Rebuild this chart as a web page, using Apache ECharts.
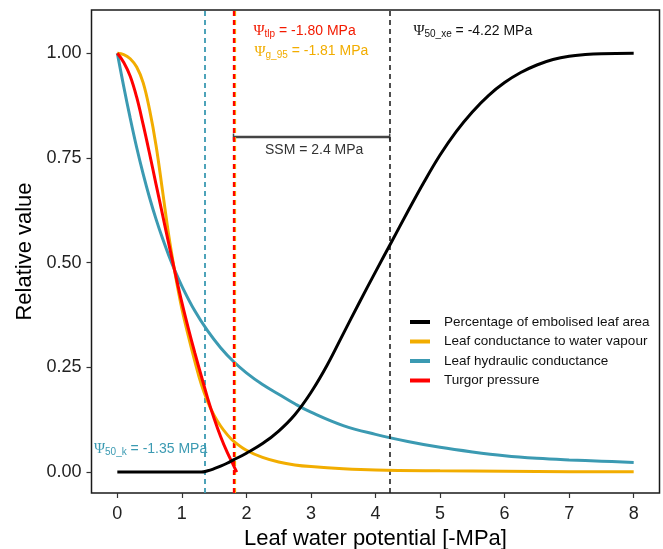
<!DOCTYPE html>
<html>
<head>
<meta charset="utf-8">
<script src="https://cdn.jsdelivr.net/npm/echarts@6/dist/echarts.min.js"></script>
<style>
  html, body { margin: 0; padding: 0; background: #fff; }
  #chart { width: 663px; height: 549px; }
</style>
</head>
<body>
<div id="chart"></div>
<script>
// Leaf water potential (x, -MPa) and relative value of each trait
const embolX = [0, 0.5, 1.0, 1.3, 1.4, 1.5, 1.6, 1.7, 1.8, 2.0, 2.25, 2.5, 2.75, 3.0, 3.25, 3.5, 3.75, 4.0, 4.25, 4.5, 4.75, 5.0, 5.25, 5.5, 5.75, 6.0, 6.25, 6.5, 6.75, 7.0, 7.25, 7.5, 8.0];
const embolY = [0, 0, 0, 0, 0.003, 0.008, 0.014, 0.021, 0.029, 0.045, 0.068, 0.098, 0.137, 0.19, 0.255, 0.33, 0.405, 0.478, 0.55, 0.622, 0.692, 0.757, 0.813, 0.86, 0.899, 0.93, 0.954, 0.972, 0.985, 0.993, 0.997, 0.999, 1.0];

const gsX = [0, 0.1, 0.2, 0.3, 0.4, 0.5, 0.6, 0.7, 0.8, 0.9, 1.0, 1.1, 1.2, 1.3, 1.4, 1.5, 1.6, 1.7, 1.8, 2.0, 2.25, 2.5, 2.75, 3.0, 3.5, 4.0, 5.0, 6.0, 7.0, 8.0];
const gsY = [1.0, 0.997, 0.987, 0.967, 0.93, 0.865, 0.78, 0.672, 0.562, 0.47, 0.39, 0.325, 0.265, 0.21, 0.168, 0.135, 0.11, 0.09, 0.074, 0.052, 0.035, 0.024, 0.017, 0.013, 0.008, 0.005, 0.003, 0.002, 0.001, 0.001];

const khX = [0, 0.1, 0.2, 0.3, 0.4, 0.5, 0.6, 0.7, 0.8, 0.9, 1.0, 1.2, 1.4, 1.6, 1.8, 2.0, 2.25, 2.5, 2.75, 3.0, 3.5, 4.0, 4.5, 5.0, 5.5, 6.0, 6.5, 7.0, 7.5, 8.0];
const khY = [1.0, 0.92, 0.845, 0.775, 0.712, 0.655, 0.604, 0.558, 0.516, 0.478, 0.444, 0.385, 0.337, 0.297, 0.264, 0.237, 0.209, 0.186, 0.163, 0.143, 0.111, 0.09, 0.073, 0.059, 0.048, 0.039, 0.033, 0.029, 0.026, 0.023];

const turgorX = [0, 0.1, 0.2, 0.3, 0.4, 0.5, 0.6, 0.7, 0.8, 0.9, 1.0, 1.1, 1.2, 1.3, 1.4, 1.5, 1.6, 1.7, 1.8, 1.85];
const turgorY = [1.0, 0.978, 0.945, 0.895, 0.83, 0.76, 0.687, 0.615, 0.543, 0.473, 0.405, 0.343, 0.285, 0.23, 0.176, 0.128, 0.085, 0.048, 0.016, 0];

// Thresholds (shown as -MPa on the axis)
const psiTlp = 1.80;
const psiG95 = 1.81;
const psi50k = 1.35;
const psi50xe = 4.22;
const ssmValue = 2.4;
const ssmLevel = 0.8;

const seriesNames = [
  'Percentage of embolised leaf area',
  'Leaf conductance to water vapour',
  'Leaf hydraulic conductance',
  'Turgor pressure'
];
const xTicks = [0, 1, 2, 3, 4, 5, 6, 7, 8];
const yTicks = [0, 0.25, 0.5, 0.75, 1];

const colBlack = '#000000';
const colOrange = '#F2AD00';
const colBlue = '#3B9AB2';
const colRed = '#FF0000';
const FONT = '"Liberation Sans", Arial, sans-serif';

const zip = (xs, ys) => xs.map((x, i) => [x, ys[i]]);

function curve(name, xs, ys, color, z) {
  return {
    name, type: 'line', data: zip(xs, ys), showSymbol: false, symbol: 'none',
    smooth: 0.4, z,
    lineStyle: { color, width: 3 }, itemStyle: { color },
    emphasis: { disabled: true }, animation: false
  };
}

function vline(value, color, width, z) {
  return {
    type: 'line', data: [], z, silent: true, animation: false,
    markLine: {
      silent: true, symbol: ['none', 'none'], animation: false,
      label: { show: false },
      lineStyle: { color, width, type: [5, 4] },
      emphasis: { disabled: true },
      data: [{ xAxis: value }]
    }
  };
}

const chart = echarts.init(document.getElementById('chart'), null, { renderer: 'canvas' });

chart.setOption({
  animation: false,
  backgroundColor: '#ffffff',
  textStyle: { fontFamily: FONT },
  grid: {
    left: 91.5, right: 3.5, top: 10, bottom: 56,
    outerBoundsMode: 'none', containLabel: false,
    show: true, borderColor: '#1a1a1a', borderWidth: 1.5, backgroundColor: 'transparent'
  },
  legend: {
    orient: 'vertical', left: 405, top: 310,
    icon: 'rect', itemWidth: 20, itemHeight: 4, itemGap: 5.5,
    data: seriesNames,
    textStyle: { fontSize: 13.5, color: '#111', fontFamily: FONT, padding: [0, 0, 0, 9] },
    selectedMode: false
  },
  xAxis: {
    type: 'value', min: -0.4, max: 8.4, position: 'bottom',
    name: 'Leaf water potential [-MPa]', nameLocation: 'middle', nameGap: 33,
    nameTextStyle: { fontSize: 22, color: '#000', fontFamily: FONT },
    axisLine: { show: false, onZero: false },
    splitLine: { show: false },
    axisTick: { show: true, inside: false, customValues: xTicks, length: 5, lineStyle: { color: '#333', width: 1.2 } },
    axisLabel: { customValues: xTicks, fontSize: 18, color: '#222', margin: 12, fontFamily: FONT }
  },
  yAxis: {
    type: 'value', min: -0.05, max: 1.1033, position: 'left',
    name: 'Relative value', nameLocation: 'middle', nameGap: 55, nameRotate: 90,
    nameTextStyle: { fontSize: 22, color: '#000', fontFamily: FONT },
    axisLine: { show: false, onZero: false },
    splitLine: { show: false },
    axisTick: { show: true, inside: false, customValues: yTicks, length: 5, lineStyle: { color: '#333', width: 1.2 } },
    axisLabel: {
      customValues: yTicks, fontSize: 18, color: '#222', margin: 10, fontFamily: FONT,
      formatter: v => v.toFixed(2)
    }
  },
  series: [
    vline(psi50k, colBlue, 1.8, 1),
    vline(psi50xe, '#222', 1.6, 1),
    vline(psiG95, colOrange, 3.2, 1),
    vline(psiTlp, colRed, 2.2, 2),
    {
      name: 'SSM', type: 'line', z: 3, animation: false, silent: true,
      data: [[psiTlp, ssmLevel], [psi50xe, ssmLevel]],
      symbol: 'rect', symbolSize: [1.5, 7], showSymbol: true,
      lineStyle: { color: '#444', width: 2.5 }, itemStyle: { color: '#444' }
    },
    curve(seriesNames[2], khX, khY, colBlue, 4),
    curve(seriesNames[1], gsX, gsY, colOrange, 5),
    curve(seriesNames[3], turgorX, turgorY, colRed, 6),
    curve(seriesNames[0], embolX, embolY, colBlack, 7)
  ]
});

// Text annotations placed in data coordinates
const px = (x, y) => chart.convertToPixel({ xAxisIndex: 0, yAxisIndex: 0 }, [x, y]);
const psiStyle = { fontFamily: '"Liberation Serif", "DejaVu Serif", serif', fontSize: 15 };
function note(x, y, parts, color, align) {
  const p = px(x, y);
  const rich = {
    psi: Object.assign({ fill: color }, psiStyle),
    sub: { fontFamily: FONT, fontSize: 10, fill: color, padding: [7, 0, 0, 0] },
    t: { fontFamily: FONT, fontSize: 14, fill: color }
  };
  return {
    type: 'text', x: p[0], y: p[1], silent: true, z: 100,
    style: { text: parts, rich, fill: color, align: align || 'left', verticalAlign: 'middle', font: '14px ' + FONT }
  };
}

chart.setOption({
  graphic: [
    note(2.11, 1.054, '{psi|Ψ}{sub|tlp}{t| = -' + psiTlp.toFixed(2) + ' MPa}', '#F21A00'),
    note(2.125, 1.004, '{psi|Ψ}{sub|g_95}{t| = -' + psiG95.toFixed(2) + ' MPa}', colOrange),
    note(4.587, 1.053, '{psi|Ψ}{sub|50_xe}{t| = -' + psi50xe.toFixed(2) + ' MPa}', '#111'),
    note(3.05, 0.7675, '{t|SSM = ' + ssmValue.toFixed(1) + ' MPa}', '#333', 'center'),
    note(-0.362, 0.0556, '{psi|Ψ}{sub|50_k}{t| = -' + psi50k.toFixed(2) + ' MPa}', colBlue)
  ]
});
</script>
</body>
</html>
